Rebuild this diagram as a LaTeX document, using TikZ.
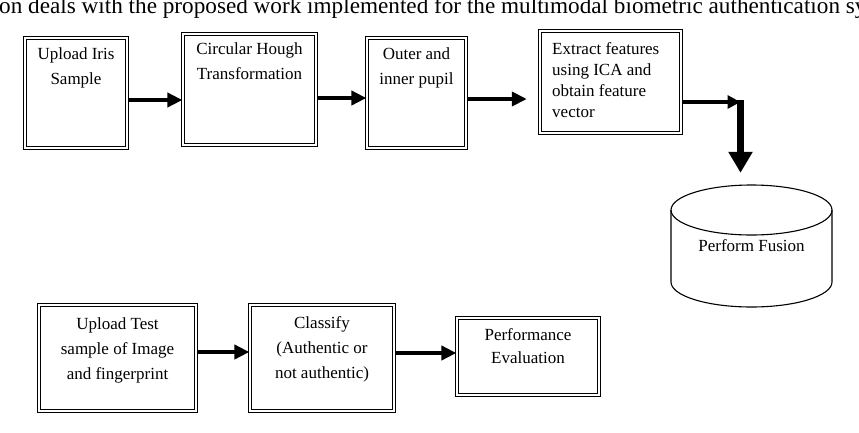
\documentclass[tikz,border=0pt]{standalone}
\usepackage{fontspec}
\setmainfont{Liberation Serif}
\usetikzlibrary{arrows.meta, positioning}

\begin{document}
\begin{tikzpicture}[x=1pt, y=-1pt,
  stage/.style={draw, line width=1.2pt, double, double distance=1.3pt, inner sep=0pt},
  stagetext/.style={inner sep=0pt, align=center, font=\fontsize{17}{25}\selectfont},
  flow/.style={line width=4.5pt, -{Triangle[length=15pt, width=14pt]}},
  bigflow/.style={line width=7pt, -{Triangle[length=21pt, width=23pt]}}]
\useasboundingbox (0,0) rectangle (859,432);

% Cut line of the page text above the figure
\begin{scope}
\clip (0,0) rectangle (859,432);
\node[anchor=base west, inner sep=0pt, font=\fontsize{23.2}{27}\selectfont] (head) at (-1,13.3)
  {on deals with the proposed work implemented for the multimodal biometric authentication system};
\end{scope}

% Upper row: iris processing
\node[stage, minimum width=102pt, minimum height=110pt] (iris) at (76,93) {};
\node[stagetext, below=10pt of iris.north] (iris-t) {Upload Iris\\Sample};

\node[stage, minimum width=133pt, minimum height=111pt] (hough) at (249.5,89.5) {};
\node[stagetext, below=9pt of hough.north] (hough-t) {Circular Hough\\Transformation};

\node[stage, minimum width=99pt, minimum height=110pt] (pupil) at (416.5,93) {};
\node[stagetext, below=10pt of pupil.north] (pupil-t) {Outer and\\inner pupil};

\node[stage, minimum width=141pt, minimum height=102pt] (extract) at (610.5,82) {};
\node[stagetext, align=left, font=\fontsize{17}{21}\selectfont, anchor=north west] (extract-t) at (552,42)
  {Extract features\\using ICA and\\obtain feature\\vector};

\draw[flow] ([yshift=-7pt]iris.east) -- ([yshift=-7pt]iris.east -| hough.west);
\draw[flow] ([yshift=-8.5pt]hough.east) -- ([yshift=-8.5pt]hough.east -| pupil.west);
\draw[flow, shorten >=12.6pt] ([yshift=-6pt]pupil.east) -- ([yshift=-6pt]pupil.east -| extract.west);

% Fusion drum
\node[inner sep=0pt, minimum width=161pt, minimum height=122pt, font=\fontsize{17}{25}\selectfont] (fusion) at (751.5,246) {Perform Fusion};
\draw[line width=1.1pt] (671,210) -- (671,282) arc[start angle=180, end angle=0, x radius=80.5, y radius=25] -- (832,210);
\draw[line width=1.1pt] (751.5,210) ellipse[x radius=80.5, y radius=25];

\coordinate (bend) at (740.5,102);
\draw[line width=4pt, -{Triangle[length=13pt, width=13pt]}] ([yshift=-20pt]extract.east) -- (bend);
\draw[bigflow, shorten >=12pt] ([yshift=2pt]bend) -- (bend |- fusion.north);

% Lower row: test and decision
\node[stage, minimum width=157pt, minimum height=106pt] (test) at (117.5,358) {};
\node[stagetext, below=13pt of test.north] (test-t) {Upload Test\\sample of Image\\and fingerprint};

\node[stage, minimum width=144pt, minimum height=106pt] (classify) at (322,358) {};
\node[stagetext, below=12pt of classify.north] (classify-t) {Classify\\(Authentic or\\not authentic)};

\node[stage, minimum width=142pt, minimum height=77pt] (perf) at (528,356.5) {};
\node[stagetext, font=\fontsize{17}{23}\selectfont, below=11pt of perf.north] (perf-t) {Performance\\Evaluation};

\draw[flow] ([yshift=6pt]test.east) -- ([yshift=6pt]test.east -| classify.west);
\draw[flow] ([yshift=5pt]classify.east) -- ([yshift=5pt]classify.east -| perf.west);
\end{tikzpicture}
\end{document}
